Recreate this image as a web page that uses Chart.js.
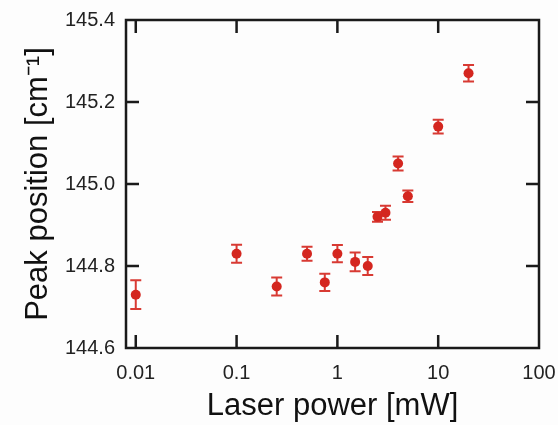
<!DOCTYPE html>
<html>
<head>
<meta charset="utf-8">
<script src="https://cdn.jsdelivr.net/npm/chart.js@4.4.1/dist/chart.umd.min.js"></script>
<style>
  html, body { margin: 0; padding: 0; background: #fdfdfd; }
  #wrap { width: 558px; height: 425px; position: relative; }
</style>
</head>
<body>
<div id="wrap"><canvas id="c" width="558" height="425"></canvas></div>
<script>
// ---- data ----
const laserPower = [0.01, 0.1, 0.25, 0.5, 0.75, 1, 1.5, 2, 2.5, 3, 4, 5, 10, 20];
const peakPosition = [144.73, 144.83, 144.75, 144.83, 144.76, 144.83, 144.81, 144.80, 144.92, 144.93, 145.05, 144.97, 145.14, 145.27];
const peakError = [0.035, 0.022, 0.022, 0.017, 0.021, 0.021, 0.023, 0.022, 0.012, 0.017, 0.017, 0.014, 0.017, 0.020];
const xTickValues = [0.01, 0.1, 1, 10, 100];
const xTickLabels = ['0.01', '0.1', '1', '10', '100'];
const yTickValues = [144.6, 144.8, 145.0, 145.2, 145.4];
const yTickLabels = ['144.6', '144.8', '145.0', '145.2', '145.4'];
const xTitle = 'Laser power [mW]';
const yTitle = 'Peak position [cm\u207B\u00B9]';

const points = laserPower.map((x, i) => ({ x: x, y: peakPosition[i], e: peakError[i] }));

const FONT = "'Liberation Sans', Arial, Helvetica, sans-serif";
const RED = '#d4261f';
const FRAME = '#1a1a1a';

const errorBars = {
  id: 'errorBars',
  beforeDatasetsDraw(chart) {
    const ctx = chart.ctx;
    const xs = chart.scales.x, ys = chart.scales.y;
    ctx.save();
    ctx.strokeStyle = '#d83a33';
    ctx.lineWidth = 2;
    const cap = 5.5;
    points.forEach(p => {
      const px = xs.getPixelForValue(p.x);
      const top = ys.getPixelForValue(p.y + p.e);
      const bot = ys.getPixelForValue(p.y - p.e);
      ctx.beginPath();
      ctx.moveTo(px, top); ctx.lineTo(px, bot);
      ctx.moveTo(px - cap, top); ctx.lineTo(px + cap, top);
      ctx.moveTo(px - cap, bot); ctx.lineTo(px + cap, bot);
      ctx.stroke();
    });
    ctx.restore();
  }
};

const frame = {
  id: 'frame',
  afterDraw(chart) {
    const ctx = chart.ctx;
    const a = chart.chartArea;
    const xs = chart.scales.x, ys = chart.scales.y;
    ctx.save();
    ctx.strokeStyle = FRAME;
    ctx.lineWidth = 2.5;
    ctx.strokeRect(a.left, a.top, a.right - a.left, a.bottom - a.top);
    const tl = 13;
    ctx.beginPath();
    xTickValues.forEach(v => {
      const px = xs.getPixelForValue(v);
      if (px <= a.left + 1 || px >= a.right - 1) return;
      ctx.moveTo(px, a.bottom); ctx.lineTo(px, a.bottom - tl);
      ctx.moveTo(px, a.top); ctx.lineTo(px, a.top + tl);
    });
    yTickValues.forEach(v => {
      const py = ys.getPixelForValue(v);
      if (py <= a.top + 1 || py >= a.bottom - 1) return;
      ctx.moveTo(a.left, py); ctx.lineTo(a.left + tl, py);
      ctx.moveTo(a.right, py); ctx.lineTo(a.right - tl, py);
    });
    ctx.stroke();
    ctx.restore();
  }
};

new Chart(document.getElementById('c'), {
  type: 'scatter',
  data: {
    datasets: [{
      data: points,
      backgroundColor: RED,
      borderColor: RED,
      pointRadius: 5,
      pointHoverRadius: 5,
      borderWidth: 0
    }]
  },
  options: {
    responsive: false,
    animation: false,
    events: [],
    layout: { padding: { left: 0, right: 19, top: 20, bottom: 0 } },
    plugins: { legend: { display: false }, tooltip: { enabled: false } },
    scales: {
      x: {
        type: 'logarithmic',
        min: 0.008,
        max: 100,
        grid: { display: false, drawTicks: false },
        border: { display: false },
        afterBuildTicks(scale) { scale.ticks = xTickValues.map(v => ({ value: v })); },
        afterFit(scale) { scale.height = 77; scale.paddingLeft = 0; scale.paddingRight = 0; },
        ticks: {
          autoSkip: false,
          maxRotation: 0,
          padding: 13,
          color: '#222',
          font: { family: FONT, size: 20 },
          callback(value) {
            const i = xTickValues.findIndex(v => Math.abs(v - value) / v < 1e-6);
            return i >= 0 ? xTickLabels[i] : '';
          }
        },
        title: {
          display: true,
          text: xTitle,
          color: '#111',
          font: { family: FONT, size: 31 },
          padding: { top: 0, bottom: 0 }
        }
      },
      y: {
        type: 'linear',
        min: 144.6,
        max: 145.4,
        grid: { display: false, drawTicks: false },
        border: { display: false },
        afterBuildTicks(scale) { scale.ticks = yTickValues.map(v => ({ value: v })); },
        afterFit(scale) { scale.width = 126; scale.paddingTop = 0; scale.paddingBottom = 0; },
        ticks: {
          padding: 11,
          color: '#222',
          font: { family: FONT, size: 20 },
          callback(value) {
            const i = yTickValues.findIndex(v => Math.abs(v - value) < 1e-6);
            return i >= 0 ? yTickLabels[i] : '';
          }
        },
        title: {
          display: true,
          text: yTitle,
          color: '#111',
          font: { family: FONT, size: 31 },
          padding: { top: 20, bottom: 0 }
        }
      }
    }
  },
  plugins: [errorBars, frame]
});
</script>
</body>
</html>
